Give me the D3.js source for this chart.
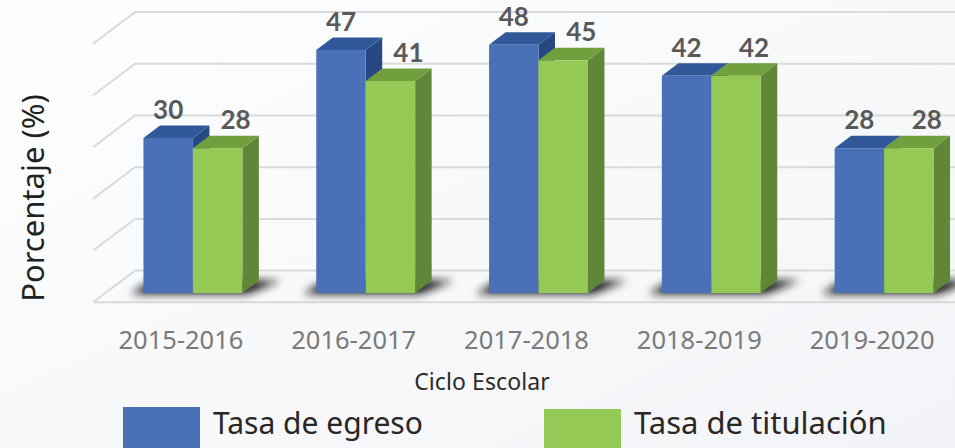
<!DOCTYPE html>
<html><head><meta charset="utf-8">
<script src="https://cdn.jsdelivr.net/npm/d3@7"></script>
<style>html,body{margin:0;padding:0;overflow:hidden;background:#f8f9fb}svg{display:block}</style>
</head><body><svg id="c" width="955" height="448"></svg>
<script>
const categories = ["2015-2016","2016-2017","2017-2018","2018-2019","2019-2020"];
const egreso = [30,47,48,42,28];
const titulacion = [28,41,45,42,28];
const seriesNames = ["Tasa de egreso","Tasa de titulación"];
const yTicks = [0,10,20,30,40,50];

const W=955,H=448, uiFont="'Noto Sans','Open Sans',sans-serif", numFont="Lato,'Open Sans',sans-serif";
const svg=d3.select("#c");
const defs=svg.append("defs");
const bg=defs.append("linearGradient").attr("id","bg").attr("x1",0).attr("y1",0).attr("x2",1).attr("y2",1);
bg.append("stop").attr("offset",0).attr("stop-color","#fdfeff");
bg.append("stop").attr("offset",1).attr("stop-color","#f3f4f7");
defs.append("filter").attr("id","blur").attr("x","-30%").attr("y","-60%").attr("width","160%").attr("height","220%")
  .append("feGaussianBlur").attr("stdDeviation",4.5);
svg.append("rect").attr("width",W).attr("height",H).attr("fill","url(#bg)");

// scales
const x=d3.scaleBand().domain(categories).range([106.5,970.5]).paddingInner(0.4277).paddingOuter(0.2139);
const x1=d3.scaleBand().domain(seriesNames).range([0,x.bandwidth()]);
const y=d3.scaleLinear().domain([0,50]).range([293,34.5]);
const dx=16.5, dy=-12.5;          // bar depth
const wallX=42, wallY=-31.7;      // floor depth, front-left to back-left
const frontLeft=93, floorFront=y(0)+9.3;

// back wall grid, left wall and floor
const gridC="#d9dadc";
const g=svg.append("g").attr("fill","none").attr("stroke",gridC).attr("stroke-width",2);
yTicks.forEach(t=>{
  const yb=floorFront+wallY-(y(0)-y(t));
  g.append("path").attr("d",`M${frontLeft},${yb-wallY}L${frontLeft+wallX},${yb}L${W},${yb}`);
});
g.append("line").attr("x1",frontLeft).attr("x2",W).attr("y1",floorFront).attr("y2",floorFront);

// bars
const colors=[
 {front:"#4a71b8",top:"#315898",side:"#274882"},
 {front:"#93c954",top:"#719f3e",side:"#5f8737"}];
const rows=categories.map((c,i)=>({c,v:[egreso[i],titulacion[i]]}));

// floor shadows
const shadow=svg.append("g").attr("filter","url(#blur)");
rows.forEach(r=>{
  const l=x(r.c), rr=l+x.bandwidth();
  shadow.append("path").attr("fill","#141416")
    .attr("d",`M${l-13},${y(0)+1}L${rr+5},${y(0)+1}L${rr+dx+22},${y(0)+dy}L${l+dx-8},${y(0)+dy}Z`);
});

const bars=svg.append("g");
rows.forEach(r=>{
  r.v.forEach((v,k)=>{
    const n=seriesNames[k], c=colors[k], l=x(r.c)+x1(n), w=x1.bandwidth(), t=y(v), b=y(0);
    const gb=bars.append("g");
    gb.append("path").attr("fill",c.side).attr("d",`M${l+w},${t}L${l+w+dx},${t+dy}L${l+w+dx},${b+dy}L${l+w},${b}Z`);
    gb.append("path").attr("fill",c.top).attr("d",`M${l},${t}L${l+dx},${t+dy}L${l+w+dx},${t+dy}L${l+w},${t}Z`);
    gb.append("rect").attr("x",l).attr("y",t).attr("width",w).attr("height",b-t).attr("fill",c.front);
  });
});

// data labels
const labelShift=[0,18];
rows.forEach(r=>r.v.forEach((v,k)=>{
  const n=seriesNames[k];
  svg.append("text").attr("x",x(r.c)+x1(n)+x1.bandwidth()/2+labelShift[k]).attr("y",y(v)-19)
    .attr("text-anchor","middle").attr("font-family",numFont).attr("font-weight",700)
    .attr("font-size",26).attr("fill","#595959").text(v);
}));

// category labels
categories.forEach(c=>{
  svg.append("text").attr("x",x(c)+x.bandwidth()/2-12).attr("y",349).attr("text-anchor","middle")
    .attr("font-family",uiFont).attr("font-size",25.5).attr("fill","#7a7a7a").text(c);
});

// axis titles
svg.append("text").attr("x",482).attr("y",390).attr("text-anchor","middle")
  .attr("font-family",uiFont).attr("font-size",23).attr("letter-spacing",0.1).attr("fill","#2b2b2b").text("Ciclo Escolar");
svg.append("text").attr("transform","translate(44,198) rotate(-90)").attr("text-anchor","middle")
  .attr("font-family",uiFont).attr("font-size",31).attr("fill","#222").text("Porcentaje (%)");

// legend
const legendX=[123,544], legendTop=[407,409], legendSize=[30,31];
seriesNames.forEach((n,k)=>{
  svg.append("rect").attr("x",legendX[k]).attr("y",legendTop[k]).attr("width",77).attr("height",H-legendTop[k]).attr("fill",colors[k].front);
  svg.append("text").attr("x",legendX[k]+90).attr("y",434).attr("font-family",uiFont).attr("font-size",legendSize[k]).attr("fill","#2a2626").text(n);
});
</script></body></html>
